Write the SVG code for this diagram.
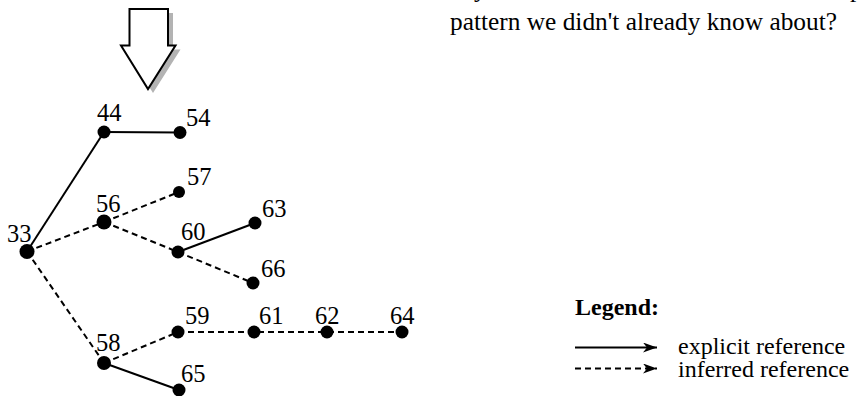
<svg xmlns="http://www.w3.org/2000/svg" width="859" height="396" viewBox="0 0 859 396">
  <style>
    text { font-family: "Liberation Serif", "Times New Roman", serif; fill: #000; }
    .lbl { font-size: 24.5px; }
    .cap { font-size: 25.5px; }
    .leg { font-size: 24px; }
    .legh { font-size: 24px; font-weight: bold; }
    .solid { stroke: #000; stroke-width: 2; fill: none; }
    .dash { stroke: #000; stroke-width: 2; fill: none; stroke-dasharray: 6 4; }
    .dot { fill: #000; }
  </style>
  <defs>
    <marker id="head" viewBox="0 0 14 10" refX="14" refY="5" markerWidth="14" markerHeight="10" markerUnits="userSpaceOnUse" orient="auto">
      <path d="M0,0 L14,5 L0,10 L4,5 Z" fill="#000"/>
    </marker>
  </defs>

  <rect width="859" height="396" fill="#fff"/>

  <!-- caption text; its first line runs above the top edge -->
  <g id="caption">
    <text class="cap" x="474" y="-3">y</text>
    <text class="cap" x="850" y="-3">p</text>
    <text class="cap" x="450" y="30" textLength="387" lengthAdjust="spacingAndGlyphs">pattern we didn't already know about?</text>
  </g>

  <!-- block arrow pointing down with drop shadow -->
  <g id="down-arrow">
    <path d="M134.5,13 H173 V49.5 H180.5 L153,93 L126,49.5 H134.5 Z" fill="#b3b3b3"/>
    <path d="M129.5,9 H168 V45.5 H175.5 L148,89 L121,45.5 H129.5 Z" fill="#fff" stroke="#000" stroke-width="2" stroke-linejoin="miter"/>
  </g>

  <!-- connectors -->
  <g id="connectors">
    <line class="solid" x1="27" y1="251.5" x2="104" y2="132"/>
    <line class="solid" x1="104" y1="132" x2="180" y2="132.5"/>
    <line class="dash" x1="27" y1="251.5" x2="104" y2="222"/>
    <line class="dash" x1="104" y1="222" x2="179" y2="192"/>
    <line class="dash" x1="104" y1="222" x2="178" y2="252"/>
    <line class="solid" x1="178" y1="252" x2="255" y2="223"/>
    <line class="dash" x1="178" y1="252" x2="253" y2="283"/>
    <line class="dash" x1="27" y1="251.5" x2="104" y2="363"/>
    <line class="dash" x1="104" y1="363" x2="178" y2="332"/>
    <line class="dash" x1="178" y1="332" x2="402" y2="332"/>
    <line class="solid" x1="104" y1="363" x2="179" y2="390"/>
  </g>

  <!-- nodes -->
  <g id="n33"><circle class="dot" cx="27" cy="251.5" r="7.5"/><text class="lbl" x="7" y="242">33</text></g>
  <g id="n44"><circle class="dot" cx="104" cy="132" r="6.5"/><text class="lbl" x="97" y="121">44</text></g>
  <g id="n54"><circle class="dot" cx="180" cy="132.5" r="6.5"/><text class="lbl" x="186" y="126">54</text></g>
  <g id="n56"><circle class="dot" cx="104" cy="222" r="7.5"/><text class="lbl" x="96" y="212">56</text></g>
  <g id="n57"><circle class="dot" cx="179" cy="192" r="6"/><text class="lbl" x="187" y="185">57</text></g>
  <g id="n60"><circle class="dot" cx="178" cy="252" r="6.5"/><text class="lbl" x="181" y="240">60</text></g>
  <g id="n63"><circle class="dot" cx="255" cy="223" r="6.5"/><text class="lbl" x="262" y="217">63</text></g>
  <g id="n66"><circle class="dot" cx="253" cy="283" r="6.5"/><text class="lbl" x="261" y="277">66</text></g>
  <g id="n58"><circle class="dot" cx="104" cy="363" r="7"/><text class="lbl" x="96" y="351">58</text></g>
  <g id="n59"><circle class="dot" cx="178" cy="332" r="6.5"/><text class="lbl" x="185" y="324">59</text></g>
  <g id="n61"><circle class="dot" cx="254" cy="332" r="6.5"/><text class="lbl" x="259" y="324">61</text></g>
  <g id="n62"><circle class="dot" cx="327" cy="332" r="6.5"/><text class="lbl" x="315" y="324">62</text></g>
  <g id="n64"><circle class="dot" cx="402" cy="332" r="6.5"/><text class="lbl" x="390" y="324">64</text></g>
  <g id="n65"><circle class="dot" cx="179" cy="390" r="6.5"/><text class="lbl" x="181" y="382">65</text></g>

  <!-- legend -->
  <g id="legend">
    <text class="legh" x="575" y="315">Legend:</text>
    <line class="solid" x1="575" y1="347.5" x2="657" y2="347.5" marker-end="url(#head)"/>
    <text class="leg" x="678" y="354">explicit reference</text>
    <line class="dash" x1="575" y1="368.5" x2="657" y2="368.5" marker-end="url(#head)"/>
    <text class="leg" x="678" y="377">inferred reference</text>
  </g>
</svg>
